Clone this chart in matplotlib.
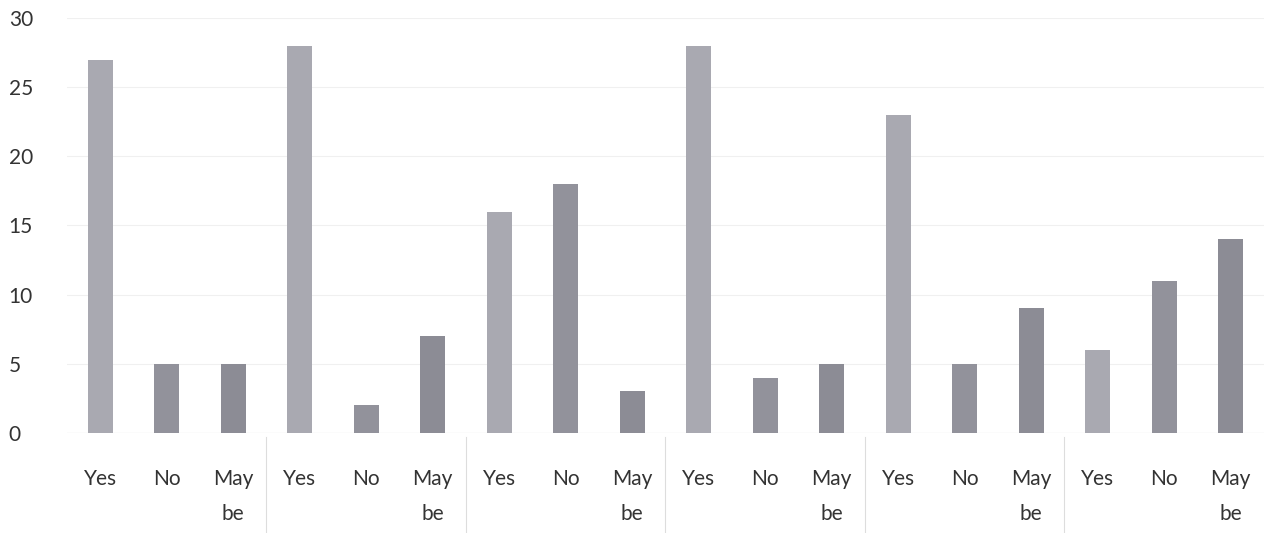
import numpy as np
import matplotlib.pyplot as plt

# data
labels = ['Yes', 'No', 'May\nbe'] * 6
values = [27, 5, 5, 28, 2, 7, 16, 18, 3, 28, 4, 5, 23, 5, 9, 6, 11, 14]
bar_colors = ['#a9a9b1', '#92929b', '#8c8c95'] * 6
yticks = [0, 5, 10, 15, 20, 25, 30]

plt.rcParams['font.family'] = ['Lato', 'DejaVu Sans']

fig = plt.figure(figsize=(12.64, 5.33), dpi=100)
ax = fig.add_axes([0.053, 0.188, 0.947, 0.778])

x = np.arange(len(values))
ax.bar(x, values, width=0.38, color=bar_colors, zorder=3)

ax.set_ylim(0, 30)
ax.set_xlim(-0.5, len(values) - 0.5)
ax.set_yticks(yticks)
ax.set_xticks(x)
ax.set_xticklabels(labels, fontsize=15, color='#333333', linespacing=1.95)
ax.tick_params(axis='x', length=0, pad=26)
ax.tick_params(axis='y', length=0, pad=42, labelsize=15, labelcolor='#333333')
for t in ax.get_yticklabels():
    t.set_horizontalalignment('left')

# faint gridlines
ax.grid(axis='y', color='#f0f0f0', linewidth=0.8, zorder=0)
for s in ax.spines.values():
    s.set_visible(False)
ax.axhline(0, color='#d8d8d8', linewidth=0.8, zorder=2)

# group separators under the axis
for b in [2.5, 5.5, 8.5, 11.5, 14.5]:
    ax.plot([b, b], [-0.3, -7.5], color='#dddddd', linewidth=0.8, clip_on=False)

fig.savefig('out.png', dpi=100)
